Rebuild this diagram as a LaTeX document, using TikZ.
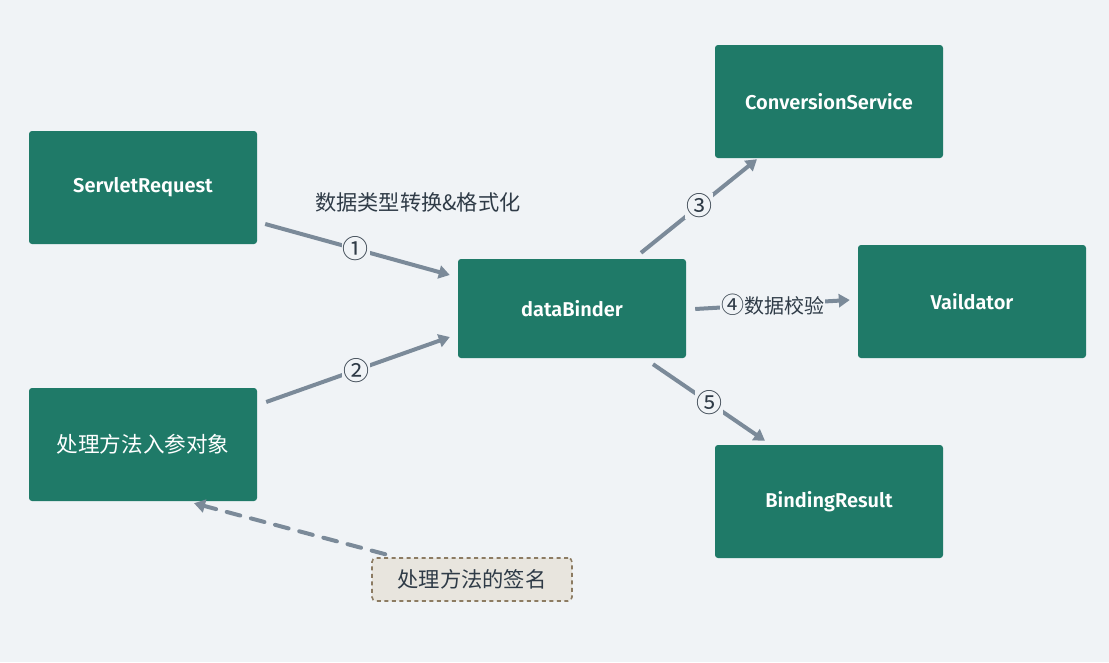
\documentclass[tikz,border=0pt]{standalone}
\usepackage{fontspec}
\setmainfont{Fira Sans}[BoldFont={Fira Sans SemiBold}]
\newfontfamily\cjk{Noto Sans CJK SC}
\usetikzlibrary{arrows.meta,calc}
\definecolor{bg}{HTML}{F0F3F6}
\definecolor{boxfill}{HTML}{1F7A68}
\definecolor{arr}{HTML}{7B8A99}
\definecolor{txt}{HTML}{2F3B47}
\definecolor{notefill}{HTML}{E8E5DE}
\definecolor{notedraw}{HTML}{8C7B62}
\tikzset{
  box/.style={fill=boxfill, rounded corners=3pt, minimum width=228pt, text=white, font=\fontsize{20}{22}\selectfont\bfseries, inner sep=0pt},
  flow/.style={draw=arr, line width=4pt, -{Triangle[length=11pt,width=13pt]}},
  lbl/.style={fill=bg, text=txt, font=\cjk\fontsize{26}{26}\selectfont, inner sep=1pt},
  note/.style={fill=notefill, draw=notedraw, line width=1.6pt, dash pattern=on 4pt off 3.5pt, rounded corners=4pt, minimum width=200pt, minimum height=43pt, text=txt, font=\cjk\fontsize{21.3}{22}\selectfont},
}
\begin{document}
\begin{tikzpicture}[x=1pt,y=-1pt]
\fill[bg] (0,0) rectangle (1109,662);
\useasboundingbox (0,0) rectangle (1109,662);
\node[box, minimum height=113pt] (sr) at (143,187.5) {ServletRequest};
\node[box, minimum height=113pt, font=\cjk\fontsize{21.6}{22}\selectfont] (arg) at (143,444.5) {处理方法入参对象};
\node[box, minimum height=99pt] (db) at (572,308.5) {dataBinder};
\node[box, minimum height=113pt] (cs) at (829,101.5) {ConversionService};
\node[box, minimum height=113pt] (va) at (972,301.5) {Vaildator};
\node[box, minimum height=113pt] (br) at (829,501.5) {BindingResult};
\node[note] (sig) at (472,579.5) {处理方法的签名};
\node[text=txt, font=\cjk\fontsize{21.2}{22}\selectfont, anchor=west, inner sep=0pt] (conv) at (315,202) {数据类型转换\&格式化};

\draw[flow] ($(sr.east)+(8,36.5)$) -- node[lbl, pos=0.49] (l1) {①} ($(db.west)+(-8,-33.5)$);
\draw[flow] ($(arg.east)+(9,-42.5)$) -- node[lbl, pos=0.49] (l2) {②} ($(db.west)+(-8,28.5)$);
\draw[flow] ($(db.north)+(69,-6)$) -- node[lbl, pos=0.5] (l3) {③} ($(cs.south)+(-72,1)$);
\draw[flow] ($(db.east)+(9,0.5)$) -- node[lbl, pos=0.5, inner sep=1pt, font=\cjk\fontsize{20}{22}\selectfont] (l4) {\fontsize{23}{22}\selectfont④\fontsize{20}{22}\selectfont 数据校验} ($(va.west)+(-8,-1.5)$);
\draw[flow] ($(db.south)+(81,6)$) -- node[lbl, pos=0.5] (l5) {⑤} ($(br.north)+(-64,-4)$);
\draw[flow, dash pattern=on 14pt off 11pt, line cap=round] ($(sig.north west)+(14,-3)$) -- ($(arg.south)+(51,2)$);
\end{tikzpicture}
\end{document}
